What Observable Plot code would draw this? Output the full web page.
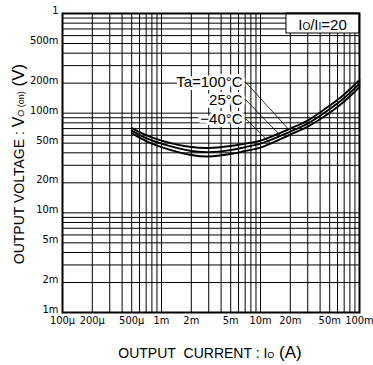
<!DOCTYPE html>
<html><head><meta charset="utf-8">
<script src="https://cdn.jsdelivr.net/npm/d3@7"></script>
<script src="https://cdn.jsdelivr.net/npm/@observablehq/plot@0.6"></script>
<style>body{margin:0;background:#fff}</style>
</head><body><div id="chart"></div>
<script>
// Output current Io (A)
const currentA = [0.5e-3, 0.7e-3, 1e-3, 2e-3, 3e-3, 5e-3, 7e-3, 10e-3, 20e-3, 30e-3, 50e-3, 70e-3, 100e-3];
// Output voltage Vo(on) (V) per ambient temperature
const vo100 = [0.0709, 0.0603, 0.0531, 0.0457, 0.0447, 0.0468, 0.0495, 0.0531, 0.0701, 0.0843, 0.119, 0.154, 0.215];
const vo25  = [0.0669, 0.0562, 0.0495, 0.0417, 0.0407, 0.0426, 0.0457, 0.0495, 0.0654, 0.0786, 0.110, 0.142, 0.198];
const voM40 = [0.0631, 0.0525, 0.0457, 0.0380, 0.0367, 0.0389, 0.0417, 0.0452, 0.0610, 0.0734, 0.101, 0.131, 0.183];
const seriesNames = ["Ta=100°C", "25°C", "−40°C"];

const xTicks = [1e-4, 2e-4, 5e-4, 1e-3, 2e-3, 5e-3, 1e-2, 2e-2, 5e-2, 1e-1];
const xTickLabels = ["100µ", "200µ", "500µ", "1m", "2m", "5m", "10m", "20m", "50m", "100m"];
const yTicks = [1e-3, 2e-3, 5e-3, 1e-2, 2e-2, 5e-2, 0.1, 0.2, 0.5, 1];
const yTickLabels = ["1m", "2m", "5m", "10m", "20m", "50m", "100m", "200m", "500m", "1"];

// annotation anchors (data space)
const labelI = 6.6e-3;
const leaderStartI = 7.1e-3;
const labelV = [0.204, 0.136, 0.088];
const leaderEndI = [19.2e-3, 15.9e-3, 12.6e-3];
const ratioBox = {x1: 18.3e-3, x2: 0.1, y1: 0.63, y2: 1};

const xGrid = [], yGrid = [];
for (const d of [1e-4, 1e-3, 1e-2]) for (let k = 1; k < 10; k++) xGrid.push(k * d);
xGrid.push(1e-1);
for (const d of [1e-3, 1e-2, 1e-1]) for (let k = 1; k < 10; k++) yGrid.push(k * d);
yGrid.push(1);

const seriesVals = [vo100, vo25, voM40];
const rows = [];
seriesNames.forEach((name, s) => currentA.forEach((I, i) => rows.push({series: name, I, V: seriesVals[s][i]})));

function interpLog(I, vals) {
  const lx = Math.log10(I);
  for (let i = 0; i < currentA.length - 1; i++) {
    const a = Math.log10(currentA[i]), b = Math.log10(currentA[i + 1]);
    if (lx >= a && lx <= b) {
      const t = (lx - a) / (b - a);
      return 10 ** (Math.log10(vals[i]) * (1 - t) + Math.log10(vals[i + 1]) * t);
    }
  }
  return vals[vals.length - 1];
}
const labelRows = seriesNames.map((name, i) => ({
  name, I: labelI, V: labelV[i], startI: leaderStartI, endI: leaderEndI[i], endV: interpLog(leaderEndI[i], seriesVals[i])
}));
const xTickRows = xTicks.map((v, i) => ({v, label: xTickLabels[i]}));
const yTickRows = yTicks.map((v, i) => ({v, label: yTickLabels[i]}));

const narrow = "'Liberation Sans Narrow', 'Arial Narrow', 'DejaVu Sans Condensed', sans-serif";
const regular = "'Liberation Sans', Arial, Helvetica, sans-serif";

const plot = Plot.plot({
  width: 373, height: 365,
  marginLeft: 62, marginRight: 14, marginTop: 13, marginBottom: 53,
  style: {fontFamily: narrow, background: "white", color: "black"},
  x: {type: "log", domain: [1e-4, 1e-1], axis: null},
  y: {type: "log", domain: [1e-3, 1], axis: null},
  marks: [
    Plot.gridX(xGrid, {stroke: "black", strokeOpacity: 1, strokeWidth: 1}),
    Plot.gridY(yGrid, {stroke: "black", strokeOpacity: 1, strokeWidth: 1}),
    Plot.text(xTickRows, {x: "v", frameAnchor: "bottom", dy: 11, text: "label", fontSize: 11, fill: "black"}),
    Plot.text(yTickRows, {y: "v", frameAnchor: "left", dx: -4, dy: -3, textAnchor: "end", text: "label", fontSize: 11, fill: "black"}),
    Plot.line(rows, {x: "I", y: "V", z: "series", stroke: "black", strokeWidth: 1.9, curve: "catmull-rom"}),
    Plot.link(labelRows, {x1: "startI", y1: "V", x2: "endI", y2: "endV", stroke: "black", strokeWidth: 0.8}),
    Plot.text(labelRows, {x: "I", y: "V", text: "name", textAnchor: "end", fontSize: 15, fontFamily: regular,
      stroke: "white", strokeWidth: 6, fill: "black", paintOrder: "stroke"}),
    Plot.rect([ratioBox], {x1: "x1", x2: "x2", y1: "y1", y2: "y2", fill: "white", stroke: "black", strokeWidth: 1}),
    Plot.frame({stroke: "black", strokeWidth: 2})
  ]
});
document.getElementById("chart").appendChild(plot);

const svg = d3.select(plot);
const sx = plot.scale("x"), sy = plot.scale("y");
// ratio box text
const bx = (sx.apply(ratioBox.x1) + sx.apply(ratioBox.x2)) / 2;
const by = sy.apply(ratioBox.y1) - 3;
const rt = svg.append("text").attr("x", bx).attr("y", by).attr("text-anchor", "middle")
  .attr("font-family", regular).attr("font-size", 15).attr("fill", "black");
rt.append("tspan").text("I");
rt.append("tspan").attr("font-size", 10).text("O");
rt.append("tspan").text("/I");
rt.append("tspan").attr("font-size", 10).text("I");
rt.append("tspan").text("=20");

// x title
const xt = svg.append("text").attr("x", 210).attr("y", 358).attr("text-anchor", "middle")
  .attr("font-family", regular).attr("font-size", 14).attr("fill", "black");
xt.append("tspan").text("OUTPUT\u00a0 CURRENT : I");
xt.append("tspan").attr("font-size", 9).text("O");
xt.append("tspan").attr("font-size", 17).text(" (A)");

// y title
const yt = svg.append("text").attr("transform", "translate(24,164) rotate(-90)").attr("text-anchor", "middle")
  .attr("font-family", regular).attr("font-size", 14).attr("fill", "black");
yt.append("tspan").text("OUTPUT VOLTAGE : ");
yt.append("tspan").attr("font-size", 16).text("V");
yt.append("tspan").attr("font-size", 9).text("O (on)");
yt.append("tspan").attr("font-size", 17).text(" (V)");
</script>
</body></html>
